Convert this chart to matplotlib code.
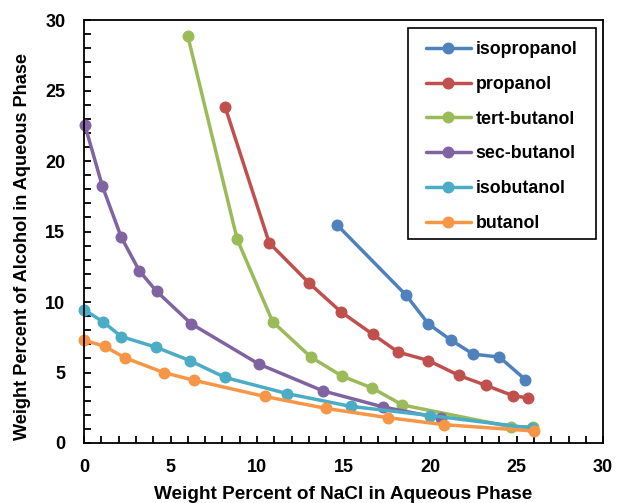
import matplotlib
matplotlib.use("Agg")
import matplotlib.pyplot as plt
from matplotlib.ticker import MultipleLocator
from matplotlib.patches import Rectangle

plt.rcParams['font.family'] = ['Liberation Sans', 'DejaVu Sans']
plt.rcParams['font.weight'] = 'bold'

series_names = ["isopropanol", "propanol", "tert-butanol", "sec-butanol", "isobutanol", "butanol"]
colors = ["#4F81BD", "#C0504D", "#9BBB59", "#8064A2", "#4BACC6", "#F79646"]

isopropanol_x = [14.6, 18.6, 19.9, 21.2, 22.5, 24.0, 25.5]
isopropanol_y = [15.5, 10.5, 8.45, 7.3, 6.3, 6.1, 4.5]

propanol_x = [8.15, 10.7, 13.0, 14.85, 16.7, 18.15, 19.9, 21.65, 23.2, 24.8, 25.65]
propanol_y = [23.85, 14.2, 11.35, 9.3, 7.7, 6.45, 5.85, 4.8, 4.1, 3.35, 3.2]

tert_butanol_x = [6.0, 8.85, 10.9, 13.1, 14.9, 16.65, 18.4, 24.65, 25.95]
tert_butanol_y = [28.85, 14.45, 8.6, 6.1, 4.75, 3.9, 2.7, 1.15, 1.15]

sec_butanol_x = [0.05, 1.05, 2.15, 3.2, 4.2, 6.2, 10.1, 13.8, 17.3, 20.65]
sec_butanol_y = [22.55, 18.25, 14.6, 12.2, 10.75, 8.45, 5.6, 3.7, 2.55, 1.75]

isobutanol_x = [0.0, 1.1, 2.15, 4.15, 6.1, 8.15, 11.75, 15.4, 20.0, 25.9]
isobutanol_y = [9.45, 8.6, 7.55, 6.8, 5.85, 4.65, 3.5, 2.6, 1.95, 1.05]

butanol_x = [0.0, 1.2, 2.35, 4.6, 6.35, 10.45, 14.0, 17.55, 20.8, 26.0]
butanol_y = [7.3, 6.85, 6.05, 5.0, 4.45, 3.3, 2.45, 1.8, 1.3, 0.85]

xs = [isopropanol_x, propanol_x, tert_butanol_x, sec_butanol_x, isobutanol_x, butanol_x]
ys = [isopropanol_y, propanol_y, tert_butanol_y, sec_butanol_y, isobutanol_y, butanol_y]

x_ticks = [0, 5, 10, 15, 20, 25, 30]
y_ticks = [0, 5, 10, 15, 20, 25, 30]

fig = plt.figure(figsize=(6.18, 5.03), dpi=100)
ax = fig.add_axes([0.136, 0.1193, 0.840, 0.8407])

for name, c, x, y in zip(series_names, colors, xs, ys):
    ax.plot(x, y, color=c, lw=2.5, marker='o', ms=7.6, label=name,
            solid_capstyle='round', clip_on=False)

ax.set_xlim(0, 30)
ax.set_ylim(0, 30)
ax.set_xticks(x_ticks)
ax.set_yticks(y_ticks)
ax.xaxis.set_minor_locator(MultipleLocator(1))
ax.yaxis.set_minor_locator(MultipleLocator(1))
ax.tick_params(which='both', direction='in', width=1.3, length=5, labelsize=13, color='black')
ax.tick_params(axis='x', pad=11.5)
ax.tick_params(axis='y', pad=13.5)
for lab in ax.get_xticklabels() + ax.get_yticklabels():
    lab.set_fontweight('bold')
for s in ax.spines.values():
    s.set_linewidth(1.3)
    s.set_color('black')

ax.set_xlabel("Weight Percent of NaCl in Aqueous Phase", fontsize=13.7, fontweight='bold', labelpad=7)
ax.set_ylabel("Weight Percent of Alcohol in Aqueous Phase", fontsize=13.1, fontweight='bold')
ax.yaxis.set_label_coords(-0.102, 0.4645)

leg = ax.legend(loc='upper right', bbox_to_anchor=(0.950, 0.9504),
                frameon=False, handlelength=2.55, labelspacing=1.0, borderpad=0.0,
                handletextpad=0.25, borderaxespad=0, prop={'weight': 'bold', 'size': 12.8})
leg.set_zorder(6)

# legend frame sized around the legend content
fig.canvas.draw()
bb = leg.get_window_extent()
inv = ax.transAxes.inverted()
(x0, y0) = inv.transform((bb.x0 - 18, bb.y0 - 7))
(x1, y1) = inv.transform((bb.x1 + 19, bb.y1 + 13))
ax.add_patch(Rectangle((x0, y0), x1 - x0, y1 - y0, transform=ax.transAxes,
                       facecolor='white', edgecolor='black', lw=1.2,
                       zorder=5, clip_on=False))

fig.savefig("out.png", dpi=100)
